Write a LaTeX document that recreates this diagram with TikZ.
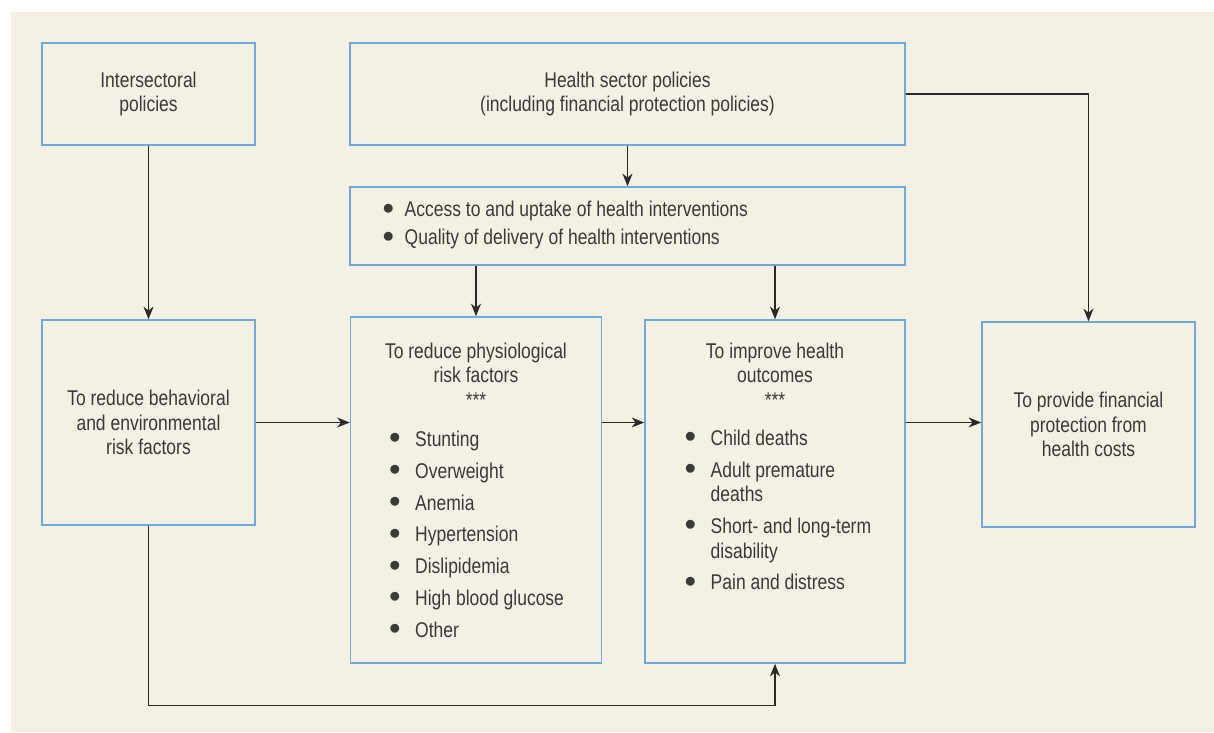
\documentclass[tikz,border=0pt]{standalone}
\usepackage{fontspec}
\setmainfont{Liberation Sans}[FakeStretch=0.82]
\usepackage{xcolor}
\usetikzlibrary{arrows.meta,positioning,calc}

\definecolor{paper}{HTML}{F4F0E3}
\definecolor{boxline}{HTML}{6FA8DC}
\definecolor{ink}{HTML}{3A3A3A}
\definecolor{wire}{HTML}{2A2A2A}

\newcommand{\blt}{\raisebox{2pt}{$\bullet$}}

\begin{document}
\begin{tikzpicture}[
    x=0.75pt, y=-0.75pt,
    every node/.style={text=ink, font=\fontsize{16}{18.4}\selectfont},
    box/.style={rectangle, draw=boxline, line width=1.1pt, inner sep=0pt, align=center},
    small/.style={box, minimum width=159.75pt, minimum height=76.5pt},
    side/.style={box, minimum width=159.75pt, minimum height=153.75pt},
    wide/.style={box, minimum width=416.25pt},
    txt/.style={inner sep=0pt},
    arrow/.style={-{Stealth[length=9.5pt, width=7.5pt, inset=3pt]}, draw=wire, line width=1pt}
]
    % background
    \useasboundingbox (0,0) rectangle (1214,732);
    \fill[paper] (11,12) rectangle (1214,732);

    % policies
    \node[small] (inter) at (148.5,94) {Intersectoral\\policies};
    \node[wide, minimum height=76.5pt] (health) at (627.5,94) {Health sector policies\\(including financial protection policies)};
    \node[wide, minimum height=58.5pt] (access) at (627.5,226) {};
    \node[txt, anchor=west] (accesstxt) at ($(access.west)+(33,0)$) {%
        \begin{tabular}{@{}c@{\hspace{8pt}}l@{}}
        \blt & Access to and uptake of health interventions\\[2.6pt]
        \blt & Quality of delivery of health interventions
        \end{tabular}};

    % goals
    \node[side] (behav) at (148.5,422.5) {To reduce behavioral\\and environmental\\risk factors};
    \node[box, minimum width=188.25pt, minimum height=259.5pt] (physio) at (476,490) {};
    \node[box, minimum width=195pt, minimum height=257.25pt] (outcome) at (775,491.5) {};
    \node[side] (finance) at (1088.5,424.5) {To provide financial\\protection from\\health costs};

    % physiological risk factors
    \node[txt, anchor=base] (physiohead) at ($(physio.north)+(0,42)$) {%
        \begin{tabular}[t]{@{}c@{}}To reduce physiological\\risk factors\\{***}\end{tabular}};
    \node[txt, anchor=base west] (physiolist) at ($(physio.north west)+(39,130)$) {%
        \begin{tabular}[t]{@{}c@{\hspace{11pt}}l@{}}
        \blt & Stunting\\[5.5pt]
        \blt & Overweight\\[5.5pt]
        \blt & Anemia\\[5.5pt]
        \blt & Hypertension\\[5.5pt]
        \blt & Dislipidemia\\[5.5pt]
        \blt & High blood glucose\\[5.5pt]
        \blt & Other
        \end{tabular}};

    % health outcomes
    \node[txt, anchor=base] (outcomehead) at ($(outcome.north)+(0,39)$) {%
        \begin{tabular}[t]{@{}c@{}}To improve health\\outcomes\\{***}\end{tabular}};
    \node[txt, anchor=base west] (outcomelist) at ($(outcome.north west)+(40,126)$) {%
        \begin{tabular}[t]{@{}c@{\hspace{11pt}}l@{}}
        \blt & Child deaths\\[5.5pt]
        \blt & Adult premature\\
             & deaths\\[5.5pt]
        \blt & Short- and long-term\\
             & disability\\[5.5pt]
        \blt & Pain and distress
        \end{tabular}};

    % arrows
    \draw[arrow] (inter) -- (behav);
    \draw[arrow] (health) -- (access);
    \draw[arrow] (access.south -| physio.north) -- (physio.north);
    \draw[arrow] (access.south -| outcome.north) -- (outcome.north);
    \draw[arrow] (health.east) -| (finance.north);
    \draw[arrow] (behav.east) -- (behav.east -| physio.west);
    \draw[arrow] (physio.east |- behav.east) -- (outcome.west |- behav.east);
    \draw[arrow] (outcome.east |- behav.east) -- (finance.west |- behav.east);
    \draw[arrow] (behav.south) -- ++(0,180) -| (outcome.south);
\end{tikzpicture}
\end{document}
